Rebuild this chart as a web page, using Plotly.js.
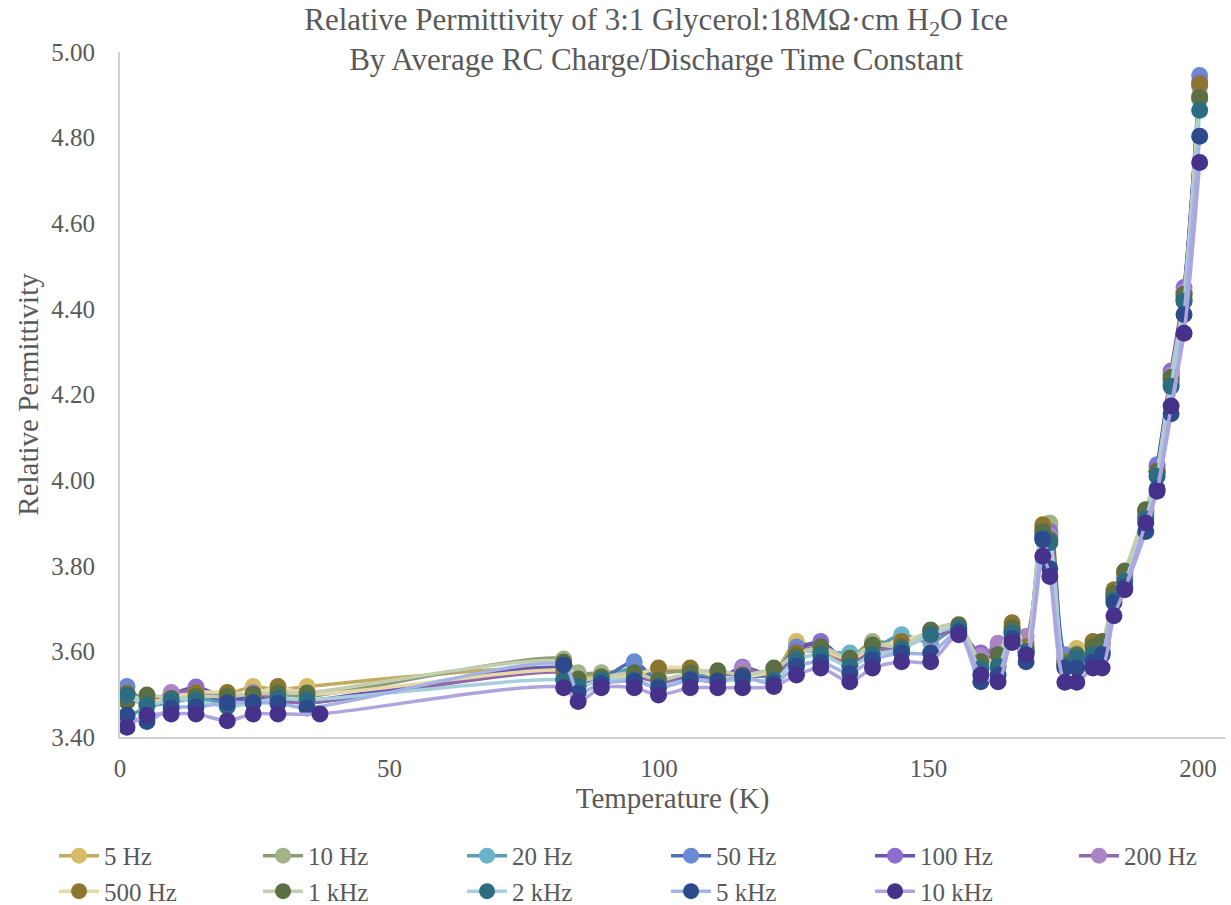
<!DOCTYPE html>
<html>
<head>
<meta charset="utf-8">
<script src="https://cdn.plot.ly/plotly-3.0.1.min.js"></script>
<style>html,body{margin:0;padding:0;background:#fff;}#chart{width:1231px;height:905px;}</style>
</head>
<body>
<div id="chart"></div>
<script>
// Temperatures (K)
const temps = [1.3,5.0,9.5,14.1,19.9,24.7,29.3,34.7,82.3,85.0,89.3,95.4,99.9,105.8,110.9,115.5,121.3,125.5,130.0,135.4,139.6,145.0,150.4,155.6,159.7,162.9,165.5,168.1,171.2,172.5,175.3,177.5,180.5,182.2,184.4,186.4,190.3,192.4,195.0,197.4,200.3];
const temps10k = [1.3,5.0,9.5,14.1,19.9,24.7,29.3,37.1,82.3,85.0,89.3,95.4,99.9,105.8,110.9,115.5,121.3,125.5,130.0,135.4,139.6,145.0,150.4,155.6,159.7,162.9,165.5,168.1,171.2,172.5,175.3,177.5,180.5,182.2,184.4,186.4,190.3,192.4,195.0,197.4,200.3];

const seriesNames = ["5 Hz","10 Hz","20 Hz","50 Hz","100 Hz","200 Hz","500 Hz","1 kHz","2 kHz","5 kHz","10 kHz"];

const hz5 = [3.500,3.485,3.490,3.500,3.500,3.518,3.510,3.518, 3.560,3.540,3.545,3.545,3.555,3.560,3.545,3.545,3.550, 3.623,3.600,3.575,3.610,3.620,3.640,3.655,3.580,3.600,3.660,3.610, 3.890,3.895,3.580,3.607,3.615,3.615,3.740,3.780,3.925,4.020,4.230,4.420,4.890];
const hz10 = [3.495,3.490,3.490,3.495,3.495,3.500,3.500,3.495, 3.582,3.550,3.550,3.555,3.550,3.555,3.550,3.545,3.555, 3.605,3.605,3.585,3.623,3.615,3.645,3.660,3.580,3.595,3.655,3.605, 3.885,3.900,3.585,3.595,3.610,3.620,3.735,3.780,3.925,4.020,4.235,4.430,4.900];
const hz20 = [3.445,3.470,3.480,3.490,3.480,3.485,3.490,3.480, 3.555,3.530,3.540,3.560,3.535,3.545,3.540,3.540,3.550, 3.600,3.600,3.596,3.605,3.639,3.620,3.655,3.575,3.595,3.650,3.600, 3.870,3.875,3.580,3.585,3.600,3.610,3.730,3.770,3.920,4.010,4.225,4.420,4.890];
const hz50 = [3.518,3.480,3.490,3.500,3.485,3.490,3.485,3.480, 3.560,3.525,3.535,3.576,3.530,3.540,3.535,3.545,3.545, 3.610,3.615,3.575,3.600,3.620,3.640,3.650,3.575,3.600,3.645,3.600, 3.870,3.870,3.592,3.580,3.595,3.600,3.730,3.775,3.920,4.036,4.250,4.440,4.945];
const hz100 = [3.490,3.485,3.500,3.517,3.490,3.495,3.490,3.485, 3.560,3.533,3.535,3.545,3.535,3.540,3.535,3.563,3.545, 3.600,3.623,3.570,3.600,3.615,3.640,3.645,3.596,3.610,3.645,3.620, 3.875,3.880,3.575,3.575,3.590,3.600,3.730,3.775,3.920,4.030,4.255,4.450,4.930];
const hz200 = [3.490,3.480,3.504,3.505,3.490,3.504,3.485,3.480, 3.550,3.525,3.530,3.540,3.530,3.535,3.530,3.560,3.540, 3.590,3.610,3.570,3.600,3.610,3.635,3.645,3.590,3.619,3.640,3.635, 3.870,3.870,3.570,3.575,3.590,3.600,3.725,3.770,3.915,4.020,4.245,4.440,4.920];
const hz500 = [3.503,3.483,3.490,3.504,3.504,3.500,3.518,3.500, 3.555,3.535,3.540,3.545,3.561,3.561,3.540,3.540,3.555, 3.596,3.605,3.580,3.610,3.623,3.645,3.655,3.575,3.590,3.667,3.611, 3.896,3.860,3.575,3.590,3.623,3.620,3.744,3.785,3.930,4.020,4.235,4.425,4.925];
const khz1 = [3.483,3.498,3.490,3.495,3.495,3.500,3.503,3.503, 3.575,3.535,3.540,3.550,3.533,3.550,3.555,3.545,3.561, 3.590,3.611,3.584,3.615,3.611,3.650,3.662,3.576,3.592,3.655,3.600, 3.880,3.860,3.570,3.592,3.610,3.623,3.735,3.788,3.931,4.020,4.240,4.434,4.894];
const khz2 = [3.498,3.475,3.487,3.485,3.471,3.480,3.490,3.487, 3.533,3.518,3.533,3.533,3.518,3.535,3.530,3.535,3.533, 3.580,3.592,3.565,3.592,3.605,3.639,3.654,3.560,3.565,3.643,3.600, 3.865,3.854,3.565,3.585,3.592,3.595,3.720,3.763,3.910,4.009,4.219,4.418,4.864];
const khz5 = [3.451,3.436,3.468,3.470,3.480,3.480,3.479,3.468, 3.568,3.503,3.525,3.530,3.515,3.533,3.531,3.541,3.525, 3.565,3.575,3.549,3.580,3.596,3.596,3.645,3.529,3.545,3.630,3.576, 3.861,3.793,3.561,3.561,3.575,3.592,3.714,3.750,3.880,3.980,4.155,4.387,4.803];
const khz10 = [3.423,3.451,3.454,3.454,3.438,3.454,3.454,3.454, 3.515,3.483,3.515,3.515,3.498,3.515,3.515,3.515,3.518, 3.545,3.561,3.529,3.561,3.576,3.576,3.639,3.545,3.529,3.621,3.592, 3.822,3.775,3.528,3.528,3.561,3.561,3.683,3.744,3.900,3.974,4.173,4.343,4.742];

const seriesValues = [hz5,hz10,hz20,hz50,hz100,hz200,hz500,khz1,khz2,khz5,khz10];
const seriesTemps = [temps,temps,temps,temps,temps,temps,temps,temps,temps,temps,temps10k];

const lineColors   = ["#c2aa5e","#8c9c72","#5b9db3","#4e6fb5","#6b52b3","#9069a9","#e8d8a8","#c3cdb0","#a6cfdc","#a3b3e3","#b0a4e0"];
const markerColors = ["#d5bd67","#a1b387","#6bb3c9","#6a8ad4","#8a6fd0","#ab84c5","#8c7530","#5b6e44","#2d6d82","#2c4a8c","#46318b"];

const FONT = "'Liberation Serif', 'Times New Roman', serif";
const TXT = "#595959";

const traces = seriesNames.map((name, i) => ({
  type: "scatter",
  mode: "lines+markers",
  name: name,
  x: seriesTemps[i],
  y: seriesValues[i],
  line: {color: lineColors[i], width: 3.5, shape: "spline", smoothing: 0.8},
  marker: {color: markerColors[i], size: 17},
  cliponaxis: false
}));

const layout = {
  width: 1231,
  height: 905,
  paper_bgcolor: "#ffffff",
  plot_bgcolor: "#ffffff",
  margin: {l: 120, r: 6, t: 52, b: 168, autoexpand: false},
  font: {family: FONT, color: TXT, size: 22},
  title: {
    text: "Relative Permittivity of 3:1 Glycerol:18MΩ·cm H<sub>2</sub>O Ice<br>By Average RC Charge/Discharge Time Constant",
    font: {family: FONT, size: 31, color: TXT},
    x: 0.533, xref: "container", xanchor: "center",
    y: 0.967, yref: "container", yanchor: "top"
  },
  xaxis: {
    range: [0, 205],
    tickvals: [0, 50, 100, 150, 200],
    ticktext: ["0", "50", "100", "150", "200"],
    showgrid: false,
    zeroline: false,
    showline: true,
    linecolor: "#d0d0d0",
    linewidth: 2,
    ticks: "",
    ticklabelstandoff: 8,
    tickfont: {family: FONT, size: 25, color: TXT},
    title: {text: "Temperature (K)", font: {family: FONT, size: 29, color: TXT}, standoff: 6}
  },
  yaxis: {
    range: [3.4, 5.0],
    tickvals: [3.4, 3.6, 3.8, 4.0, 4.2, 4.4, 4.6, 4.8, 5.0],
    ticktext: ["3.40", "3.60", "3.80", "4.00", "4.20", "4.40", "4.60", "4.80", "5.00"],
    showgrid: false,
    zeroline: false,
    showline: true,
    linecolor: "#d0d0d0",
    linewidth: 2,
    ticks: "",
    ticklabelstandoff: 18,
    tickfont: {family: FONT, size: 25, color: TXT},
    title: {text: "Relative Permittivity", font: {family: FONT, size: 29, color: TXT}, standoff: 4}
  },
  showlegend: true,
  legend: {
    orientation: "h",
    xref: "paper", yref: "paper",
    x: -0.0597, xanchor: "left",
    y: -0.140, yanchor: "top",
    itemwidth: 40,
    entrywidth: 149,
    entrywidthmode: "pixels",
    font: {family: FONT, size: 25, color: TXT},
    bgcolor: "rgba(0,0,0,0)",
    traceorder: "normal"
  }
};

Plotly.newPlot("chart", traces, layout, {displayModeBar: false, staticPlot: true});
</script>
</body>
</html>
